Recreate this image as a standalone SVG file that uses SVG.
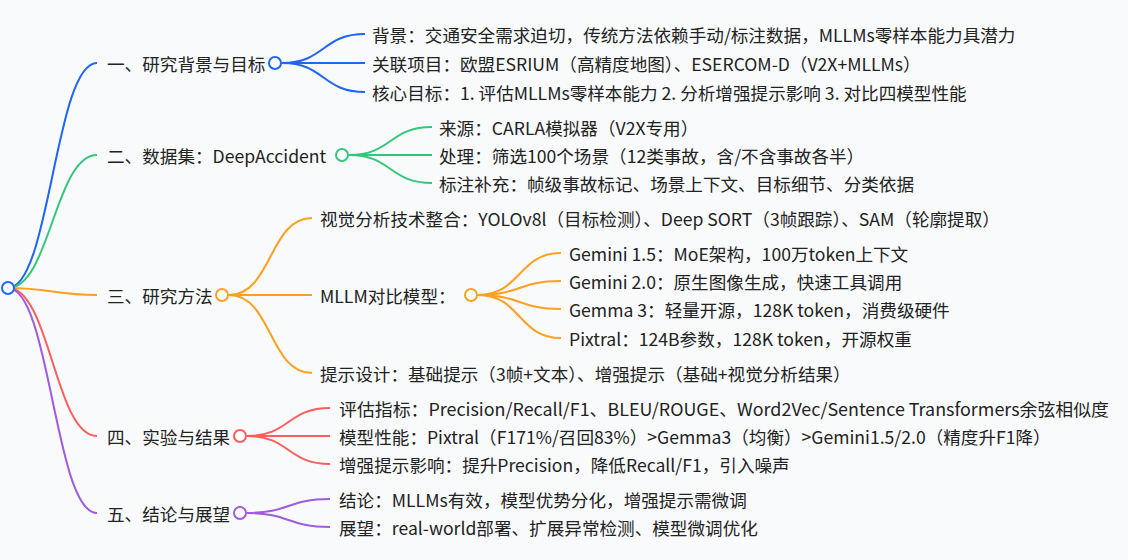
<svg xmlns="http://www.w3.org/2000/svg" width="1128" height="560" viewBox="0 0 1128 560">
<style>
text{font-family:"Noto Sans CJK SC","Noto Sans",sans-serif;font-size:17.6px;fill:#222;dominant-baseline:central}
path{fill:none;stroke-width:2}
circle{fill:#fff;stroke-width:2}
.b{stroke:#1e66f5}.g{stroke:#34c77b}.o{stroke:#ffa020}.r{stroke:#ff5c5c}.p{stroke:#a05ce0}
</style>
<rect width="1128" height="560" fill="#f9fafc"/>
<g id="connectors">
<path class="b" d="M8,288 C50,288 55,63 97,63"/>
<path class="g" d="M8,288 C50,288 55,155 97,155"/>
<path class="o" d="M8,288 C50,288 55,295 97,295"/>
<path class="r" d="M8,288 C50,288 55,436 97,436"/>
<path class="p" d="M8,288 C50,288 55,513 97,513"/>
<path class="b" d="M282,63 C325,63 322,34 365,34 M282,63 H365 M282,63 C325,63 322,92 365,92"/>
<path class="g" d="M349,155 C392,155 389,127 432,127 M349,155 H432 M349,155 C392,155 389,183 432,183"/>
<path class="o" d="M229,295 C272,295 269,218 312,218 M229,295 H312 M229,295 C272,295 269,373 312,373"/>
<path class="o" d="M478,295 C521,295 518,253 561,253 M478,295 C521,295 518,281 561,281 M478,295 C521,295 518,309 561,309 M478,295 C521,295 518,338 561,338"/>
<path class="r" d="M247,436 C290,436 287,408 330,408 M247,436 H330 M247,436 C290,436 287,464 330,464"/>
<path class="p" d="M247,513 C290,513 287,499 330,499 M247,513 C290,513 287,527 330,527"/>
</g>
<g id="root"><circle class="b" cx="8" cy="288" r="6"/></g>
<g id="n1"><text x="107" y="63">一、研究背景与目标</text><circle class="b" cx="275" cy="63" r="6"/></g>
<g id="n1a"><text x="372" y="34">背景：交通安全需求迫切，传统方法依赖手动/标注数据，MLLMs零样本能力具潜力</text></g>
<g id="n1b"><text x="372" y="63">关联项目：欧盟ESRIUM（高精度地图）、ESERCOM-D（V2X+MLLMs）</text></g>
<g id="n1c"><text x="372" y="92">核心目标：1. 评估MLLMs零样本能力 2. 分析增强提示影响 3. 对比四模型性能</text></g>
<g id="n2"><text x="107" y="155">二、数据集：DeepAccident</text><circle class="g" cx="342" cy="155" r="6"/></g>
<g id="n2a"><text x="439" y="127">来源：CARLA模拟器（V2X专用）</text></g>
<g id="n2b"><text x="439" y="155">处理：筛选100个场景（12类事故，含/不含事故各半）</text></g>
<g id="n2c"><text x="439" y="183">标注补充：帧级事故标记、场景上下文、目标细节、分类依据</text></g>
<g id="n3"><text x="107" y="295">三、研究方法</text><circle class="o" cx="222" cy="295" r="6"/></g>
<g id="n3a"><text x="320" y="218">视觉分析技术整合：YOLOv8l（目标检测）、Deep SORT（3帧跟踪）、SAM（轮廓提取）</text></g>
<g id="n3b"><text x="320" y="295">MLLM对比模型：</text><circle class="o" cx="471" cy="295" r="6"/></g>
<g id="n3b1"><text x="569" y="253">Gemini 1.5：MoE架构，100万token上下文</text></g>
<g id="n3b2"><text x="569" y="281">Gemini 2.0：原生图像生成，快速工具调用</text></g>
<g id="n3b3"><text x="569" y="309">Gemma 3：轻量开源，128K token，消费级硬件</text></g>
<g id="n3b4"><text x="569" y="338">Pixtral：124B参数，128K token，开源权重</text></g>
<g id="n3c"><text x="320" y="373">提示设计：基础提示（3帧+文本）、增强提示（基础+视觉分析结果）</text></g>
<g id="n4"><text x="107" y="436">四、实验与结果</text><circle class="r" cx="240" cy="436" r="6"/></g>
<g id="n4a"><text x="339" y="408" textLength="770" lengthAdjust="spacingAndGlyphs">评估指标：Precision/Recall/F1、BLEU/ROUGE、Word2Vec/Sentence Transformers余弦相似度</text></g>
<g id="n4b"><text x="339" y="436">模型性能：Pixtral（F171%/召回83%）&gt;Gemma3（均衡）&gt;Gemini1.5/2.0（精度升F1降）</text></g>
<g id="n4c"><text x="339" y="464">增强提示影响：提升Precision，降低Recall/F1，引入噪声</text></g>
<g id="n5"><text x="107" y="513">五、结论与展望</text><circle class="p" cx="240" cy="513" r="6"/></g>
<g id="n5a"><text x="339" y="499">结论：MLLMs有效，模型优势分化，增强提示需微调</text></g>
<g id="n5b"><text x="339" y="527">展望：real-world部署、扩展异常检测、模型微调优化</text></g>
</svg>
